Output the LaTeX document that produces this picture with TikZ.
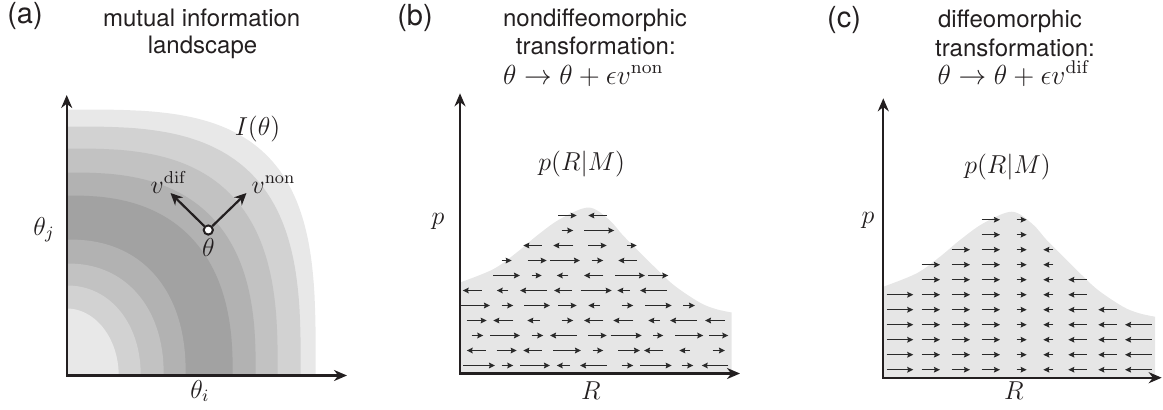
\documentclass[tikz,border=0pt]{standalone}
\usepackage[no-math]{fontspec}
\newfontfamily\helv{TeX Gyre Heros}
\usetikzlibrary{arrows.meta}
\definecolor{ink}{HTML}{231F20}
\definecolor{gA}{HTML}{E8E8E8}
\definecolor{gB}{HTML}{D2D2D2}
\definecolor{gC}{HTML}{C2C2C2}
\definecolor{gD}{HTML}{B2B2B2}
\definecolor{gE}{HTML}{A2A2A2}
\definecolor{distgray}{HTML}{E6E6E6}
\definecolor{arrgray}{HTML}{2A2A2A}
\newcommand{\mathA}[1]{\scalebox{1.08}{$#1$}}
\newcommand{\mathB}[1]{\scalebox{1.15}{$#1$}}
\tikzset{
  axisline/.style={draw=ink, line width=1.1pt, {Stealth[length=6.5pt,width=5.5pt]}-{Stealth[length=6.5pt,width=5.5pt]}},
  vecarr/.style={draw=ink, line width=1.1pt, -{Stealth[length=6pt,width=5.6pt]}},
  farr/.style={draw=arrgray, line width=0.75pt, -{Stealth[length=3pt,width=2.8pt,inset=0.4pt]}},
  ttl/.style={font=\helv\fontsize{12}{14}\selectfont, text=ink, anchor=base, inner sep=0pt},
  plab/.style={font=\helv\fontsize{14.5}{16}\selectfont, text=ink, anchor=base, inner sep=0pt},
  mth/.style={font=\fontsize{12}{14}\selectfont, text=ink, anchor=base, inner sep=0pt},
  distfill/.style={fill=distgray}
}
\begin{document}
\begin{tikzpicture}[x=0.5pt,y=-0.5pt]
\useasboundingbox (0,0) rectangle (1163,409);
% ---------------- panel (a)
\begin{scope}[shift={(66.7,375.5)},yscale=-1]
\foreach \rx/\ry/\n/\c in {249/266/3.4/gA,234/249/3.1/gB,211/227/2.9/gC,189/203/2.7/gD,166/180/2.5/gE,119/136/2.3/gD,97/112/2.2/gC,74/90/2.1/gB,52/67/2/gA}
 {\fill[\c] (0,0) -- (\rx,0) -- plot[domain=0.3:89.7,samples=90,variable=\t] ({\rx*cos(\t)^(2/\n)},{\ry*sin(\t)^(2/\n)}) -- (0,\ry) -- cycle;}
\end{scope}
\coordinate (aY) at (66.7,95);
\coordinate (aX) at (347,375.5);
\draw[axisline] (aY) |- (aX);
\node[plab] (alab) at (25,23) {(a)};
\node[ttl] (at1) at (201.7,26.7) {mutual information};
\node[ttl] (at2) at (202.5,53.3) {landscape};
\node[mth] (Ilab) at (257.5,135) {\mathA{I(\theta)}};
\node[circle,draw=ink,fill=white,line width=1pt,inner sep=0pt,minimum size=4.6pt] (theta) at (208.3,230) {};
\coordinate (vdtip) at (170.5,193);
\coordinate (vntip) at (246.5,193);
\draw[vecarr] (theta) -- (vdtip);
\draw[vecarr] (theta) -- (vntip);
\node[mth] (vdlab) at (169,193) {\mathA{v^{\mathrm{dif}}}};
\node[mth] (vnlab) at (273.5,193) {\mathA{v^{\mathrm{non}}}};
\node[mth] (thlab) at (208.3,256.7) {\mathA{\theta}};
\node[mth] (thj) at (44,235) {\mathA{\theta_j}};
\node[mth] (thi) at (200,398) {\mathA{\theta_i}};
% ---------------- panel (b)
\begin{scope}[shift={(460,373.5)},yscale=-1]
\fill[distfill] (0,0) -- plot[smooth,tension=0.55] coordinates {(0,91) (33.4,104.4) (56.7,121) (76.7,137.7) (100,154.4) (128.4,166) (148.4,154.4) (163.4,137.7) (180,121) (196.7,104.4) (214.7,87.7) (239.7,71) (255.7,64.5) (271.7,61)} -- (271.7,0) -- cycle;
\foreach \Y/\a/\b in {
 158/98.3/116.7, 158/146.7/128.3,
 143/101.7/113.3, 143/124.3/154.3,
 128/81.7/63.3, 128/113.3/93.3, 128/128.3/146.7, 128/166.7/176.7,
 113/41.7/51.7, 113/67.7/86.7, 113/90/120, 113/131.7/143.3, 113/176.7/158.3,
 98/33.3/60, 98/71.7/81.7, 98/108.3/96.7, 98/143.3/124, 98/155/185, 98/188.3/208.3,
 83/21.7/2.7, 83/48.3/36.7, 83/86.7/60, 83/112/94, 83/120.7/151.7, 83/170/157.3, 83/206.7/180,
 68/0.5/30, 68/41.7/53.3, 68/64.3/90, 68/98.3/116.7, 68/140/128.3, 68/161.7/173.3, 68/185/211.7, 68/223.3/235,
 53/6.7/26.7, 53/53.3/33.3, 53/80/67.3, 53/101.7/113.3, 53/143.3/124, 53/173.3/153.3, 53/200/188.3, 53/236.7/210, 53/265/245,
 38/11.7/23.3, 38/30/60, 38/71.7/83.3, 38/116.7/90, 38/128.3/146.7, 38/150.7/181.7, 38/193.3/203.3, 38/215/243.3, 38/249.3/268.3,
 23/25.7/6.7, 23/36.7/56.7, 23/81.7/63.3, 23/93.3/121, 23/132.7/143.3, 23/158.3/180, 23/203.3/184, 23/230/219.3, 23/252.7/265,
 8/3.3/35, 8/41.7/53.3, 8/60/90, 8/110/96.7, 8/146.7/120, 8/161.7/173.3, 8/180/211.7, 8/221.7/233.3, 8/268.3/241.7}
 {\draw[farr] (\a,\Y) -- (\b,\Y);}
\end{scope}
\coordinate (bY) at (460,93.3);
\coordinate (bX) at (740,373.5);
\draw[axisline] (bY) |- (bX);
\node[plab] (blab) at (415,25) {(b)};
\node[ttl] (bt1) at (595,26) {nondiffeomorphic};
\node[ttl] (bt2) at (595.8,54.5) {transformation:};
\node[mth] (bt3) at (583.3,84) {\mathB{\theta\to\theta+\epsilon v^{\mathrm{non}}}};
\node[mth] (bpm) at (581.7,170) {\mathA{p(R|M)}};
\node[mth] (bp) at (438,224) {\mathA{p}};
\node[mth] (bR) at (591,399) {\mathA{R}};
% ---------------- panel (c)
\begin{scope}[shift={(883.3,377.7)},yscale=-1]
\fill[distfill] (0,0) -- plot[smooth,tension=0.55] coordinates {(0,91) (33.4,104.4) (56.7,121) (76.7,137.7) (100,154.4) (128.4,166) (148.4,154.4) (163.4,137.7) (180,121) (196.7,104.4) (214.7,87.7) (239.7,71) (255.7,64.5) (271.7,61)} -- (271.7,0) -- cycle;
\foreach \a/\b/\ytop in {3.4/30/83, 38.4/56.7/113, 68.4/86.7/128, 98.4/116.7/158, 133.4/143.4/158, 170/160/128, 203.4/185/98, 233.4/215/68, 268.4/241.7/53}
 {\foreach \Y in {8,23,...,\ytop} {\draw[farr] (\a,\Y) -- (\b,\Y);}}
\end{scope}
\coordinate (cY) at (883.3,98.3);
\coordinate (cX) at (1161.7,377.7);
\draw[axisline] (cY) |- (cX);
\node[plab] (clab) at (844,27) {(c)};
\node[ttl] (ct1) at (1010,27.5) {diffeomorphic};
\node[ttl] (ct2) at (1015,56) {transformation:};
\node[mth] (ct3) at (1014,84) {\mathB{\theta\to\theta+\epsilon v^{\mathrm{dif}}}};
\node[mth] (cpm) at (1007.5,173) {\mathA{p(R|M)}};
\node[mth] (cp) at (868,223.3) {\mathA{p}};
\node[mth] (cR) at (1014,399) {\mathA{R}};
\end{tikzpicture}
\end{document}
